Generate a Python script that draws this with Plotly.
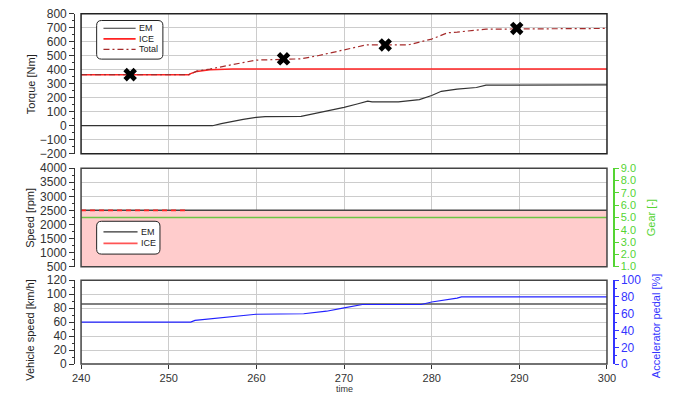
import plotly.graph_objects as go

# ---- data ----
# Torque panel
em_torque_t = [240, 255.0, 256, 257.3, 258.5, 260, 261, 265.1, 267, 270, 271.5, 272.7, 273.2, 276.2, 278.6, 280, 281.1, 282.9, 285.1, 286.2, 300]
em_torque = [0, 0, 15, 32, 45, 60, 65, 67, 90, 131, 155, 175, 170, 170, 186, 216, 246, 262, 273, 290, 292]
ice_torque_t = [240, 252.3, 252.5, 253.2, 254.7, 257.3, 300]
ice_torque = [365, 365, 372, 388, 400, 405, 405]
total_torque_t = [240, 252.3, 253.2, 254.7, 257.3, 260, 262, 265.1, 267, 270, 272.5, 277.3, 278.6, 280, 281.8, 282.9, 286.2, 300]
total_torque = [365, 365, 390, 405, 437, 469, 472, 478, 500, 545, 577, 577, 595, 619, 664, 669, 690, 695]
op_points_t = [245.6, 263.1, 274.7, 289.7]
op_points = [365, 478, 577, 695]

# Speed panel
em_speed_t = [240, 300]
em_speed = [2500, 2500]
ice_speed_t = [240, 252.3]
ice_speed = [2500, 2500]
gear_t = [240, 300]
gear = [5, 5]

# Vehicle panel
veh_speed_t = [240, 300]
veh_speed = [86, 86]
pedal_t = [240, 252.5, 253, 255, 257.4, 260, 265.4, 268, 270, 272.1, 278.8, 280, 282.9, 283.4, 300]
pedal = [50, 50, 52, 54, 57, 59.4, 60, 63, 67, 71, 71, 74, 78.5, 80, 80]

time_ticks = [240, 250, 260, 270, 280, 290, 300]

# ---- layout geometry (paper fractions, 690x402 canvas) ----
W, H = 690, 402
X0, X1 = 74 / W, 614 / W
LEFT_AX = 67 / W
RIGHT_AX = 621 / W
P1 = [1 - 152 / H, 1 - 7 / H]
P2 = [1 - 269 / H, 1 - 167 / H]
P3 = [1 - 370 / H, 1 - 283 / H]

FONT = "Liberation Sans, Arial, sans-serif"
GRID = "#cccccc"
GREEN = "#55d433"
BLUE = "#3434ff"

EM_COL = "#333333"
ICE_COL = "#ff2222"
TOTAL_COL = "#a52a2a"
TOTAL_DASH = "6px,3px,2px,3px"

fig = go.Figure()

# torque
fig.add_trace(go.Scatter(x=em_torque_t, y=em_torque, name="EM", mode="lines", showlegend=False,
                         line=dict(color=EM_COL, width=1.2), xaxis="x", yaxis="y"))
fig.add_trace(go.Scatter(x=ice_torque_t, y=ice_torque, name="ICE", mode="lines", showlegend=False,
                         line=dict(color=ICE_COL, width=1.5), xaxis="x", yaxis="y"))
fig.add_trace(go.Scatter(x=total_torque_t, y=total_torque, name="Total", mode="lines", showlegend=False,
                         line=dict(color=TOTAL_COL, width=1.2, dash=TOTAL_DASH), xaxis="x", yaxis="y"))
fig.add_trace(go.Scatter(x=op_points_t, y=op_points, mode="markers", showlegend=False,
                         marker=dict(symbol="x", size=12, color="black"), xaxis="x", yaxis="y"))

# speed
fig.add_trace(go.Scatter(x=em_speed_t, y=em_speed, mode="lines", fill="tozeroy",
                         fillcolor="#ffcccc", line=dict(width=0), showlegend=False,
                         hoverinfo="skip", xaxis="x2", yaxis="y2"))
fig.add_trace(go.Scatter(x=gear_t, y=gear, name="Gear", mode="lines", showlegend=False,
                         line=dict(color="#6cc544", width=1.5), xaxis="x2", yaxis="y3"))
fig.add_trace(go.Scatter(x=em_speed_t, y=em_speed, name="EM", mode="lines", showlegend=False,
                         line=dict(color="#444444", width=1.5), xaxis="x2", yaxis="y2"))
fig.add_trace(go.Scatter(x=ice_speed_t, y=ice_speed, name="ICE", mode="lines", showlegend=False,
                         line=dict(color=ICE_COL, width=1.8, dash="5px,4px"), xaxis="x2", yaxis="y2"))

# vehicle speed / pedal
fig.add_trace(go.Scatter(x=veh_speed_t, y=veh_speed, mode="lines", showlegend=False,
                         line=dict(color="#555555", width=1.6), xaxis="x3", yaxis="y4"))
fig.add_trace(go.Scatter(x=pedal_t, y=pedal, mode="lines", showlegend=False,
                         line=dict(color="#2222ff", width=1.2), xaxis="x3", yaxis="y5"))

tickfont = dict(family=FONT, size=12, color="#333333")

def xax(anchor, labels):
    return dict(domain=[X0, X1], range=[240, 300], anchor=anchor, tickvals=time_ticks,
                showticklabels=labels, ticks="outside" if labels else "", ticklen=4,
                tickcolor="#333333", showgrid=True, gridcolor=GRID, gridwidth=1.2,
                zeroline=False, showline=False,
                tickfont=dict(family=FONT, size=11, color="#333333"))

def yax(domain, rng, dtick, minor):
    return dict(domain=domain, range=rng, dtick=dtick, anchor="free", position=LEFT_AX,
                showline=True, linecolor="#333333", linewidth=1.2, ticks="outside",
                ticklen=5, tickcolor="#333333", showgrid=True, gridcolor=GRID, gridwidth=1.2,
                zeroline=False, tickfont=tickfont,
                minor=dict(dtick=minor, ticks="outside", ticklen=2, tickcolor="#333333", showgrid=False))

fig.update_layout(
    width=W, height=H,
    margin=dict(l=0, r=0, t=0, b=0),
    paper_bgcolor="white", plot_bgcolor="white",
    font=dict(family=FONT, size=11, color="#333333"),
    showlegend=False,
    xaxis=xax("y", False),
    xaxis2=dict(xax("y2", False), matches="x"),
    xaxis3=dict(xax("y4", True), matches="x"),
    yaxis=yax(P1, [-200, 800], 100, 50),
    yaxis2=yax(P2, [500, 4000], 500, 250),
    yaxis3=dict(overlaying="y2", side="right", anchor="free", position=RIGHT_AX, range=[1, 9],
                dtick=1, tickformat=".1f", showgrid=False, zeroline=False, showline=True,
                linecolor=GREEN, linewidth=1.5, ticks="outside", ticklen=4, tickcolor=GREEN,
                tickfont=dict(family=FONT, size=11, color=GREEN)),
    yaxis4=yax(P3, [0, 120], 20, 10),
    yaxis5=dict(overlaying="y4", side="right", anchor="free", position=RIGHT_AX, range=[0, 100],
                dtick=20, showgrid=False, zeroline=False, showline=True,
                linecolor=BLUE, linewidth=1.5, ticks="outside", ticklen=4, tickcolor=BLUE,
                tickfont=dict(family=FONT, size=12, color=BLUE),
                minor=dict(dtick=10, ticks="outside", ticklen=2, tickcolor=BLUE)),
)

# panel frames
for xr, yr, col in [("x", "y", "#222222"), ("x2", "y2", "#444444"), ("x3", "y4", "#444444")]:
    fig.add_shape(type="rect", xref=f"{xr} domain", yref=f"{yr} domain", x0=0, x1=1, y0=0, y1=1,
                  line=dict(color=col, width=1.5), layer="above")


def px(x):
    return x / W


def py(y):
    return 1 - y / H


def rounded_box(x0, y0, x1, y1, r=5):
    rx, ry = r / W, r / H
    a, b, c, d = px(x0), py(y0), px(x1), py(y1)
    return (f"M {a + rx} {b} L {c - rx} {b} Q {c} {b} {c} {b - ry} "
            f"L {c} {d + ry} Q {c} {d} {c - rx} {d} L {a + rx} {d} Q {a} {d} {a} {d + ry} "
            f"L {a} {b - ry} Q {a} {b} {a + rx} {b} Z")


def legend_box(box, entries, line_x, text_x, y_first, step):
    fig.add_shape(type="path", path=rounded_box(*box), xref="paper", yref="paper",
                  line=dict(color="#222222", width=1), fillcolor="white", layer="above")
    for i, (label, col, dash, width) in enumerate(entries):
        yy = y_first + i * step
        fig.add_shape(type="line", xref="paper", yref="paper", x0=px(line_x[0]), x1=px(line_x[1]),
                      y0=py(yy), y1=py(yy), line=dict(color=col, width=width, dash=dash), layer="above")
        fig.add_annotation(text=label, x=px(text_x), y=py(yy), xref="paper", yref="paper",
                           showarrow=False, xanchor="left", yanchor="middle",
                           font=dict(family=FONT, size=9, color="#222222"))


legend_box((90, 14, 158, 54),
           [("EM", EM_COL, "solid", 1.2), ("ICE", ICE_COL, "solid", 1.8), ("Total", TOTAL_COL, TOTAL_DASH, 1.2)],
           (97, 130), 131, 22, 11)
legend_box((90, 222, 155, 256),
           [("EM", EM_COL, "solid", 1.2), ("ICE", "#ff5555", "solid", 1.8)],
           (97, 132), 133, 233, 12)

# axis titles
titles = [
    ("Torque [Nm]", 22, (P1[0] + P1[1]) / 2, "#222222"),
    ("Speed [rpm]", 22, (P2[0] + P2[1]) / 2, "#222222"),
    ("Vehicle speed [km/h]", 22, py(334), "#222222"),
    ("Gear [-]", 660, (P2[0] + P2[1]) / 2, GREEN),
    ("Accelerator pedal [%]", 664, py(330), BLUE),
]
for text, xp, yp, col in titles:
    fig.add_annotation(text=text, x=px(xp), y=yp, xref="paper", yref="paper", textangle=-90,
                       showarrow=False, font=dict(family=FONT, size=11, color=col),
                       xanchor="center", yanchor="middle")
fig.add_annotation(text="time", x=(X0 + X1) / 2, y=py(402), xref="paper", yref="paper",
                   showarrow=False, font=dict(family=FONT, size=9, color="#333333"),
                   xanchor="center", yanchor="bottom", borderpad=0)

fig.write_html("out.html")
